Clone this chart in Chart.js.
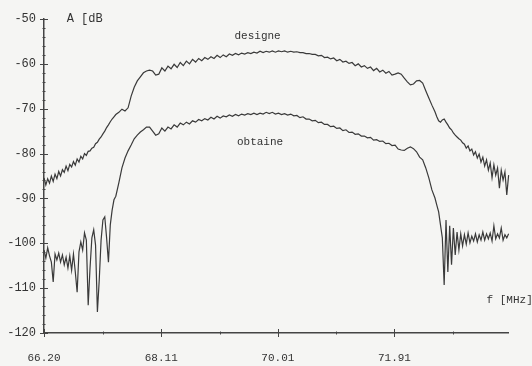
<!DOCTYPE html>
<html>
<head>
<meta charset="utf-8">
<script src="https://cdn.jsdelivr.net/npm/chart.js@4.4.1/dist/chart.umd.min.js"></script>
<style>
  html, body { margin: 0; padding: 0; background: #f5f5f3; }
  #wrap { width: 532px; height: 366px; position: relative; }
</style>
</head>
<body>
<div id="wrap"><canvas id="myChart"></canvas></div>
<script>
// frequency samples (MHz)
const freqMHz = [
  66.20, 66.23, 66.26, 66.29, 66.32, 66.35, 66.38, 66.41, 66.44, 66.47,
  66.50, 66.53, 66.56, 66.59, 66.62, 66.65, 66.68, 66.71, 66.74, 66.77,
  66.80, 66.83, 66.86, 66.89, 66.92, 66.95, 66.98, 67.01, 67.04, 67.07,
  67.10, 67.13, 67.16, 67.19, 67.22, 67.25, 67.28, 67.31, 67.34, 67.37,
  67.42, 67.47, 67.52, 67.57, 67.62, 67.67, 67.72, 67.77, 67.82, 67.87,
  67.92, 67.97, 68.02, 68.07, 68.12, 68.17, 68.22, 68.27, 68.32, 68.37,
  68.42, 68.47, 68.52, 68.57, 68.62, 68.67, 68.72, 68.77, 68.82, 68.87,
  68.92, 68.97, 69.02, 69.07, 69.12, 69.17, 69.22, 69.27, 69.32, 69.37,
  69.42, 69.47, 69.52, 69.57, 69.62, 69.67, 69.72, 69.77, 69.82, 69.87,
  69.92, 69.97, 70.02, 70.07, 70.12, 70.17, 70.22, 70.27, 70.32, 70.37,
  70.42, 70.47, 70.52, 70.57, 70.62, 70.67, 70.72, 70.77, 70.82, 70.87,
  70.92, 70.97, 71.02, 71.07, 71.12, 71.17, 71.22, 71.27, 71.32, 71.37,
  71.42, 71.47, 71.52, 71.57, 71.62, 71.67, 71.72, 71.77, 71.82, 71.87,
  71.92, 71.97, 72.02, 72.07, 72.12, 72.17, 72.22, 72.27, 72.32, 72.37,
  72.42, 72.47, 72.52, 72.57,
  72.60, 72.63, 72.66, 72.69, 72.72, 72.75, 72.78, 72.81, 72.84, 72.87,
  72.90, 72.93, 72.96, 72.99, 73.02, 73.05, 73.08, 73.11, 73.14, 73.17,
  73.20, 73.23, 73.26, 73.29, 73.32, 73.35, 73.38, 73.41, 73.44, 73.47,
  73.50, 73.53, 73.56, 73.59, 73.62, 73.65, 73.68, 73.71, 73.74, 73.77,
  73.80, 73.83, 73.86, 73.89
];

// "designe" curve (dB)
const designeDb = [
  -85.4, -87.0, -85.6, -86.6, -85.0, -86.2, -84.6, -85.6, -84.0, -85.0,
  -83.6, -84.2, -82.8, -83.8, -82.4, -83.0, -81.8, -82.6, -81.2, -81.9,
  -80.6, -81.2, -80.0, -80.4, -79.5, -79.4, -78.8, -78.6, -77.8, -77.5,
  -76.8, -76.3, -75.6, -75.0, -74.2, -73.6, -72.9, -72.3, -71.8, -71.3,
  -70.8, -70.1, -70.5, -69.8, -67.2, -65.2, -63.8, -62.9, -62.0, -61.6,
  -61.4, -61.6, -62.5, -62.3, -60.9, -61.6, -60.5, -61.1, -60.1, -60.8,
  -59.7, -60.4, -59.4, -60.0, -59.0, -59.6, -58.8, -59.3, -58.6, -59.0,
  -58.4, -58.8, -58.1, -58.6, -58.0, -58.4, -57.8, -58.1, -57.7, -58.0,
  -57.6, -57.8, -57.5, -57.7, -57.4, -57.6, -57.2, -57.5, -57.2, -57.4,
  -57.1, -57.4, -57.1, -57.3, -57.1, -57.4, -57.2, -57.4, -57.3, -57.5,
  -57.5, -57.7, -57.7, -57.9, -57.9, -58.2, -58.1, -58.6, -58.5, -58.9,
  -58.7, -59.3, -59.0, -59.6, -59.4, -59.9, -59.7, -60.4, -60.0, -60.7,
  -60.4, -61.0, -60.7, -61.5, -61.0, -61.8, -61.4, -62.1, -61.7, -62.5,
  -62.3, -62.0, -62.3, -63.2, -64.0, -64.7, -64.5, -63.8, -63.7, -64.3,
  -66.0, -67.6, -69.2, -70.7,
  -71.8, -72.7, -73.0, -72.5, -72.3, -73.0, -73.6, -74.3, -74.7, -75.4,
  -75.9, -76.3, -76.7, -77.0, -77.6, -77.9, -78.8, -78.3, -79.4, -79.0,
  -80.3, -79.6, -81.0, -80.1, -81.9, -80.8, -82.8, -81.4, -83.7, -82.1,
  -85.4, -82.5, -84.8, -83.2, -87.7, -83.7, -85.9, -84.1, -89.2, -84.8,
  -87.2, -85.4, -90.8, -86.8
];

// "obtaine" curve (dB)
const obtaineDb = [
  -101.5, -103.3, -101.0, -102.8, -104.2, -108.6, -102.4, -103.7, -102.2, -104.2,
  -102.6, -104.8, -103.1, -105.5, -102.8, -106.0, -102.4, -106.4, -110.9, -101.9,
  -99.7, -101.5, -97.7, -99.3, -113.8, -105.5, -98.8, -97.0, -100.4, -115.3,
  -108.2, -99.3, -94.8, -94.1, -98.8, -104.2, -95.9, -92.6, -90.3, -89.5,
  -86.5, -83.2, -81.0, -79.4, -78.1, -76.7, -75.9, -75.2, -74.7, -74.1,
  -74.1, -75.0, -75.9, -75.6, -74.3, -75.0, -74.1, -74.5, -73.6, -74.1,
  -73.2, -73.6, -73.0, -73.4, -72.7, -73.0, -72.4, -72.7, -72.2, -72.5,
  -71.9, -72.3, -71.7, -72.1, -71.6, -71.8, -71.4, -71.7, -71.3, -71.6,
  -71.2, -71.4, -71.1, -71.3, -71.0, -71.3, -71.0, -71.2, -70.8, -71.1,
  -70.8, -71.2, -71.0, -71.3, -71.1, -71.4, -71.2, -71.6, -71.5, -72.0,
  -71.8, -72.3, -72.3, -72.7, -72.6, -73.1, -73.0, -73.5, -73.5, -74.0,
  -73.9, -74.4, -74.3, -74.9, -74.7, -75.3, -75.2, -75.7, -75.6, -76.1,
  -76.1, -76.5, -76.4, -77.0, -76.9, -77.3, -77.2, -77.8, -77.7, -78.2,
  -78.1, -79.0, -79.2, -79.3, -78.8, -78.5, -78.9, -79.6, -80.8, -81.4,
  -83.2, -85.4, -88.1, -89.9,
  -91.5, -93.0, -95.9, -98.8, -109.3, -94.8, -106.4, -96.1, -104.8, -96.6,
  -102.6, -97.5, -101.5, -97.9, -100.6, -98.1, -100.2, -97.7, -99.9, -98.4,
  -99.5, -97.9, -99.7, -98.1, -99.3, -97.5, -99.3, -97.9, -99.0, -97.7,
  -99.5, -96.1, -99.0, -97.9, -98.8, -96.6, -99.3, -98.1, -98.8, -97.9,
  -99.0, -98.4, -98.8, -98.6
];

// axis ticks
const freqTicks = [66.20, 68.11, 70.01, 71.91];
const freqMinorTicks = [67.155, 69.06, 70.96, 72.86];
const dbTicks = [-120, -110, -100, -90, -80, -70, -60, -50];

const monoFont = '"Liberation Mono", "DejaVu Sans Mono", monospace';
const inkColor = '#3a3a3a';

// tick marks across the axes and the curve labels
const axisMarks = {
  id: 'axisMarks',
  afterDatasetsDraw(chart) {
    const { ctx, scales: { x, y } } = chart;
    ctx.save();
    ctx.strokeStyle = '#444';
    ctx.lineWidth = 1;
    for (let v = -120; v <= -50; v += 2) {
      const py = Math.round(y.getPixelForValue(v)) + 0.5;
      const len = dbTicks.includes(v) ? 4 : 1.5;
      ctx.beginPath();
      ctx.moveTo(x.left - len, py);
      ctx.lineTo(x.left + len, py);
      ctx.stroke();
    }
    const bottom = y.getPixelForValue(-120);
    freqTicks.concat(freqMinorTicks).forEach((v, i) => {
      const px = Math.round(x.getPixelForValue(v)) + 0.5;
      const len = i < freqTicks.length ? 4 : 1.5;
      ctx.beginPath();
      ctx.moveTo(px, bottom - len);
      ctx.lineTo(px, bottom + len);
      ctx.stroke();
    });

    ctx.fillStyle = '#333';
    ctx.font = '11px ' + monoFont;
    ctx.textBaseline = 'middle';
    ctx.textAlign = 'center';
    ctx.fillText('designe', x.getPixelForValue(69.68), y.getPixelForValue(-53.8));
    ctx.fillText('obtaine', x.getPixelForValue(69.72), y.getPixelForValue(-77.4));
    ctx.textAlign = 'left';
    ctx.font = '12px ' + monoFont;
    ctx.fillText('A [dB', x.getPixelForValue(66.57), y.getPixelForValue(-50));
    ctx.font = '11px ' + monoFont;
    ctx.fillText('f [MHz]', x.getPixelForValue(73.41), y.getPixelForValue(-112.6));
    ctx.restore();
  }
};

const data = {
  datasets: [
    {
      label: 'designe',
      data: freqMHz.map((f, i) => ({ x: f, y: designeDb[i] })),
      borderColor: inkColor,
      borderWidth: 1.2,
      pointRadius: 0,
      tension: 0,
      clip: false
    },
    {
      label: 'obtaine',
      data: freqMHz.map((f, i) => ({ x: f, y: obtaineDb[i] })),
      borderColor: inkColor,
      borderWidth: 1.2,
      pointRadius: 0,
      tension: 0,
      clip: false
    }
  ]
};

const config = {
  type: 'line',
  data: data,
  options: {
    responsive: true,
    maintainAspectRatio: false,
    animation: false,
    layout: { padding: { top: 19, right: 24, left: 0, bottom: 0 } },
    plugins: {
      legend: { display: false },
      tooltip: { enabled: false }
    },
    scales: {
      x: {
        type: 'linear',
        min: 66.20,
        max: 73.76,
        afterBuildTicks: (scale) => { scale.ticks = freqTicks.map(v => ({ value: v })); },
        afterFit: (scale) => { scale.height = 33; },
        grid: { display: false, drawTicks: false },
        border: { display: true, color: '#444', width: 1.5 },
        ticks: {
          padding: 18,
          color: '#333',
          font: { family: monoFont, size: 11 },
          maxRotation: 0,
          callback: (v) => Number(v).toFixed(2)
        }
      },
      y: {
        min: -120,
        max: -50,
        afterBuildTicks: (scale) => { scale.ticks = dbTicks.map(v => ({ value: v })); },
        afterFit: (scale) => { scale.width = 44; },
        grid: { display: false, drawTicks: false },
        border: { display: true, color: '#444', width: 1.5 },
        ticks: {
          padding: 8,
          color: '#333',
          font: { family: monoFont, size: 12 },
          callback: (v) => String(v)
        }
      }
    }
  },
  plugins: [axisMarks]
};

const myChart = new Chart(document.getElementById('myChart'), config);
</script>
</body>
</html>
